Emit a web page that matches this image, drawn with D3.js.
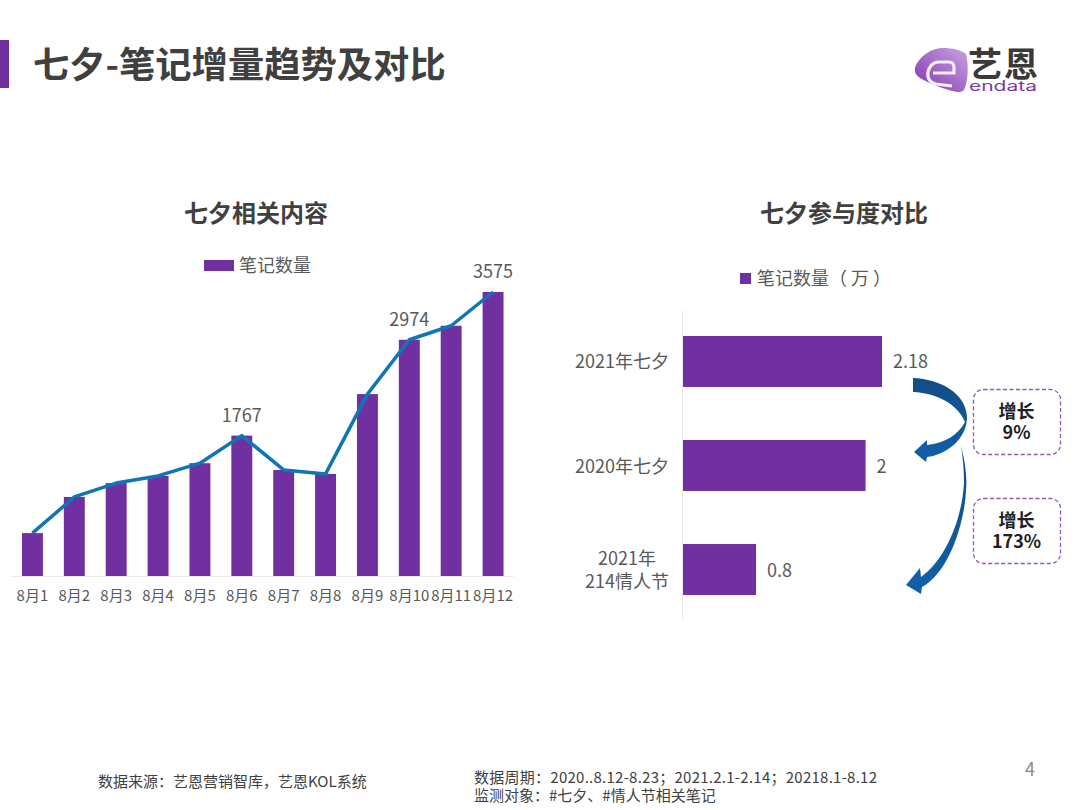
<!DOCTYPE html>
<html lang="zh">
<head>
<meta charset="UTF-8">
<script src="https://cdn.jsdelivr.net/npm/d3@7"></script>
<style>
  html, body { margin: 0; padding: 0; background: #fff; }
  text { font-family: "Noto Sans CJK SC", "Noto Sans", sans-serif; }
</style>
</head>
<body>
<div id="container"></div>
<script>
// left chart data
const days = ["8月1","8月2","8月3","8月4","8月5","8月6","8月7","8月8","8月9","8月10","8月11","8月12"];
const noteCounts = [540, 995, 1170, 1260, 1420, 1767, 1335, 1285, 2290, 2974, 3150, 3575];
const labelledDays = ["8月6","8月10","8月12"];

// right chart data
const groups = ["2021年七夕", "2020年七夕", "2021年\n214情人节"];
const groupValues = [2.18, 2, 0.8];
const growthLabels = ["9%", "173%"];

const purple = "#7030a0";
const blue = "#0f75b5";
const grey = "#595959";

const width = 1080, height = 810;
const svg = d3.select("#container").append("svg")
    .attr("width", width)
    .attr("height", height)
    .style("display", "block");
const defs = svg.append("defs");

// header
svg.append("rect").attr("x", 0).attr("y", 40).attr("width", 9).attr("height", 48).attr("fill", "#6f2f9f");
svg.append("text").attr("x", 33).attr("y", 78)
    .attr("font-size", 36.3).attr("font-weight", 700).attr("fill", "#404040")
    .text("七夕-笔记增量趋势及对比");

// logo
const logoGrad = defs.append("linearGradient")
    .attr("id", "logoGrad").attr("x1", 0).attr("y1", 1).attr("x2", 1).attr("y2", 0);
logoGrad.append("stop").attr("offset", 0).attr("stop-color", "#7f35ad");
logoGrad.append("stop").attr("offset", 1).attr("stop-color", "#c9a3e2");
svg.append("path")
    .attr("d", "M915,68 C918,58 930,48 943,48 C952,48 962,50 966,54 C969,66 968,82 964,90 C961,93 957,92 952,91 C942,88 928,83 920,78 C916,75 914,72 915,68 Z")
    .attr("fill", "url(#logoGrad)");
svg.append("path")
    .attr("d", "M933,73 L954,73 L954,67 C954,64 952,62 949,62 L938,62 C933,62 929,67 928,72 C927,78 930,83 936,84 L952,86")
    .attr("fill", "none").attr("stroke", "#f4eef8").attr("stroke-width", 3.2);
const logoText = svg.append("text");
logoText.append("tspan").attr("x", 968).attr("y", 77)
    .attr("font-size", 34).attr("font-weight", 700).attr("fill", "#3a3a3a").attr("textLength", 70)
    .text("艺恩");
logoText.append("tspan").attr("x", 969).attr("y", 91)
    .style("font-family", "Inter, sans-serif")
    .attr("font-size", 14).attr("fill", "#7a3aa5").attr("textLength", 68).attr("lengthAdjust", "spacingAndGlyphs")
    .text("endata");

// left chart
svg.append("text").attr("x", 256).attr("y", 222).attr("text-anchor", "middle")
    .attr("font-size", 24).attr("font-weight", 700).attr("fill", "#404040").text("七夕相关内容");

svg.append("rect").attr("x", 204).attr("y", 260).attr("width", 30).attr("height", 11).attr("fill", purple);
svg.append("text").attr("x", 239).attr("y", 272).attr("font-size", 18).attr("fill", grey).text("笔记数量");

const x = d3.scaleBand().domain(days).range([11.5, 514]).paddingInner(0.5).paddingOuter(0.25);
const y = d3.scaleLinear().domain([0, 3575]).range([576, 292]);

svg.append("line").attr("x1", 11).attr("x2", 514).attr("y1", 576.5).attr("y2", 576.5).attr("stroke", "#ececec");

svg.selectAll(".bar").data(noteCounts).join("rect")
    .attr("class", "bar")
    .attr("x", (d, i) => x(days[i]))
    .attr("y", d => y(d))
    .attr("width", x.bandwidth())
    .attr("height", d => y(0) - y(d))
    .attr("fill", purple);

const line = d3.line()
    .x((d, i) => x(days[i]) + x.bandwidth() / 2)
    .y(d => y(d));
svg.append("path").attr("d", line(noteCounts))
    .attr("fill", "none").attr("stroke", blue).attr("stroke-width", 3.5).attr("stroke-linejoin", "round");

svg.selectAll(".day").data(days).join("text")
    .attr("class", "day")
    .attr("x", d => x(d) + x.bandwidth() / 2)
    .attr("y", 601).attr("text-anchor", "middle")
    .attr("font-size", 15).attr("fill", grey).text(d => d);

svg.selectAll(".peak").data(labelledDays).join("text")
    .attr("class", "peak")
    .attr("x", d => x(d) + x.bandwidth() / 2)
    .attr("y", d => y(noteCounts[days.indexOf(d)]) - 14)
    .attr("text-anchor", "middle")
    .attr("font-size", 18).attr("fill", grey)
    .text(d => noteCounts[days.indexOf(d)]);

// right chart
svg.append("text").attr("x", 844).attr("y", 222).attr("text-anchor", "middle")
    .attr("font-size", 24).attr("font-weight", 700).attr("fill", "#404040").text("七夕参与度对比");

svg.append("rect").attr("x", 740).attr("y", 273).attr("width", 11).attr("height", 11).attr("fill", purple);
svg.append("text").attr("x", 757).attr("y", 285).attr("font-size", 18).attr("fill", grey).text("笔记数量（ 万 ）");

const xr = d3.scaleLinear().domain([0, 2.18]).range([683, 882]);
const yr = d3.scaleBand().domain(groups).range([310, 621]).paddingInner(0.51).paddingOuter(0.25);

svg.append("line").attr("x1", 682.5).attr("x2", 682.5).attr("y1", 310).attr("y2", 620).attr("stroke", "#ececec");

svg.selectAll(".hbar").data(groupValues).join("rect")
    .attr("class", "hbar")
    .attr("x", xr(0))
    .attr("y", (d, i) => yr(groups[i]))
    .attr("width", d => xr(d) - xr(0))
    .attr("height", yr.bandwidth())
    .attr("fill", purple);

svg.selectAll(".hval").data(groupValues).join("text")
    .attr("class", "hval")
    .attr("x", d => xr(d) + 11)
    .attr("y", (d, i) => yr(groups[i]) + yr.bandwidth() / 2 + 7)
    .attr("font-size", 18).attr("fill", grey).text(d => d);

groups.forEach(g => {
  const parts = g.split("\n");
  const cy = yr(g) + yr.bandwidth() / 2;
  const label = svg.append("text")
      .attr("text-anchor", parts.length > 1 ? "middle" : "end")
      .attr("font-size", 18).attr("fill", grey);
  parts.forEach((p, i) => {
    label.append("tspan").attr("x", parts.length > 1 ? 627 : 669)
        .attr("y", cy + 7 + (i - (parts.length - 1) / 2) * 23)
        .text(p);
  });
});

// growth arrows
const arrowGrad = defs.append("linearGradient")
    .attr("id", "arrowGrad").attr("x1", 0).attr("y1", 0).attr("x2", 0).attr("y2", 1);
arrowGrad.append("stop").attr("offset", 0).attr("stop-color", "#114d85");
arrowGrad.append("stop").attr("offset", 1).attr("stop-color", "#125fa8");
svg.append("path")
    .attr("d", "M913,378 C940,379 966,393 967,417 C967,440 945,455 927,457 L926,462 L914,452 L927,440 L927,445 C945,443 958,435 965,422 C958,405 938,393 913,392 Z")
    .attr("fill", "url(#arrowGrad)");
svg.append("path")
    .attr("d", "M961,446 C966,465 967,480 966,490 C965,520 950,572 922,587 L921,594 L906,585 L920,568 L921,577 C945,560 962,520 964,483 C964,470 963,458 961,446 Z")
    .attr("fill", "url(#arrowGrad)");

// growth boxes
const boxes = svg.selectAll(".box").data(growthLabels).join("g")
    .attr("class", "box")
    .attr("transform", (d, i) => `translate(973.5,${i === 0 ? 389.5 : 498.5})`);
boxes.append("rect").attr("width", 87).attr("height", 65).attr("rx", 10)
    .attr("fill", "#fff").attr("stroke", "#8e5bb5").attr("stroke-width", 1.3).attr("stroke-dasharray", "4 2.5");
const boxText = boxes.append("text").attr("text-anchor", "middle")
    .attr("font-size", 18).attr("font-weight", 700).attr("fill", "#222");
boxText.append("tspan").attr("x", 43).attr("y", 28).text("增长");
boxText.append("tspan").attr("x", 43).attr("y", 49).text(d => d);

// footer
svg.append("text").attr("x", 98).attr("y", 787).attr("font-size", 15).attr("fill", "#404040")
    .text("数据来源：艺恩营销智库，艺恩KOL系统");
const footer = svg.append("text").attr("font-size", 15).attr("fill", "#404040");
footer.append("tspan").attr("x", 474).attr("y", 783).attr("textLength", 403)
    .text("数据周期：2020..8.12-8.23；2021.2.1-2.14；20218.1-8.12");
footer.append("tspan").attr("x", 474).attr("y", 801)
    .text("监测对象：#七夕、#情人节相关笔记");
svg.append("text").attr("x", 1025).attr("y", 776).attr("font-size", 18).attr("fill", "#8a8a8a").text("4");
</script>
</body>
</html>
